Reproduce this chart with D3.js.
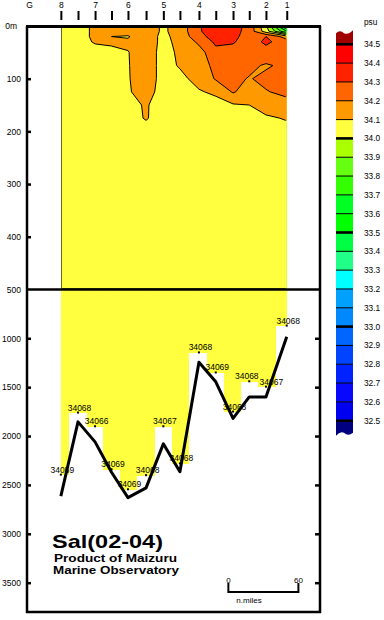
<!DOCTYPE html>
<html><head><meta charset="utf-8">
<script src="https://cdn.jsdelivr.net/npm/d3@7"></script>
<style>
body{margin:0;background:#fff}
svg{display:block}
text{font-family:"Liberation Sans",Arial,Helvetica,sans-serif;fill:#000}
</style>
</head><body>
<svg id="chart" width="384" height="620"></svg>
<script>
// ---------------- DATA ----------------
const stationNames = ["8","7.5","7","6.5","6","5.5","5","4.5","4","3.5","3","2.5","2","1"];
const stationDist  = [29, 43.7, 58.3, 72.4, 86.5, 102, 116.8, 131, 147.3, 161.7, 176.5, 190.4, 204.7, 222.5]; // n.miles
const originName = "G";
const originDist = 2.3;
const bottomDepth = [2615, 1855, 2060, 2370, 2630, 2530, 2080, 2365, 1245, 1445, 1820, 1600, 1600, 985];
const sampleDepth = [2400, 1765, 1905, 2345, 2550, 2405, 1905, 2285, 1150, 1355, 1755, 1445, 1500, 875];
const bottomSal   = ["34059","34068","34066","34069","34069","34068","34067","34068","34068","34069","34068","34068","34067","34068"];
const gridDepths = [0, 10, 20, 30, 50, 75, 100, 125, 150, 175, 200, 250, 500];
// salinity (psu): one row per grid depth, one column per station (left -> right)
const salinity = [
  [34.07,34.08,34.11,34.12,34.13,34.15,34.085,34.14,34.29,34.36,34.34,34.27,34.02,33.45],
  [34.07,34.08,34.11,34.12,34.13,34.15,34.085,34.14,34.29,34.35,34.34,34.26,34.05,33.70],
  [34.07,34.08,34.11,34.10,34.095,34.14,34.08,34.13,34.27,34.34,34.33,34.25,34.30,34.15],
  [34.07,34.08,34.105,34.11,34.11,34.14,34.08,34.12,34.22,34.32,34.31,34.25,34.32,34.25],
  [34.07,34.075,34.08,34.085,34.098,34.13,34.08,34.11,34.16,34.27,34.26,34.24,34.26,34.24],
  [34.07,34.07,34.075,34.08,34.097,34.13,34.08,34.105,34.13,34.24,34.24,34.22,34.19,34.22],
  [34.07,34.07,34.07,34.075,34.096,34.13,34.08,34.085,34.12,34.21,34.22,34.195,34.22,34.23],
  [34.07,34.07,34.07,34.07,34.094,34.125,34.075,34.08,34.095,34.11,34.21,34.15,34.195,34.22],
  [34.07,34.07,34.07,34.07,34.085,34.105,34.075,34.075,34.08,34.08,34.09,34.10,34.13,34.17],
  [34.07,34.07,34.07,34.07,34.075,34.105,34.07,34.07,34.075,34.075,34.08,34.085,34.09,34.105],
  [34.07,34.07,34.07,34.07,34.07,34.075,34.07,34.07,34.07,34.07,34.07,34.075,34.075,34.08],
  [34.07,34.07,34.07,34.07,34.07,34.07,34.07,34.07,34.07,34.07,34.07,34.07,34.07,34.07],
  [34.068,34.068,34.068,34.068,34.068,34.068,34.068,34.068,34.068,34.068,34.068,34.068,34.068,34.068]
];
const levels = [32.5,32.6,32.7,32.8,32.9,33.0,33.1,33.2,33.3,33.4,33.5,33.6,33.7,33.8,33.9,34.0,34.1,34.2,34.3,34.4,34.5];
// colour below 32.5, each 0.1 band, above 34.5
const bandColors = ["#000080","#0000f0","#0808ff","#0022ff","#0044ff","#0066ff","#0088ff","#00a0ff","#00ffff","#22ff88",
  "#00ff44","#00ff00","#00ff22","#33ff00","#66ff11","#aaff00","#ffff40","#ff9900","#ff6600","#ff2200","#ff0000","#a00000"];
const depthTicks = [0,100,200,300,400,500,1000,1500,2000,2500,3000,3500];
const depthTickLabels = ["0m","100","200","300","400","500","1000","1500","2000","2500","3000","3500"];
const scaleBarStart = 172.5, scaleBarLen = 60;
const titleText = "Sal(02-04)";
const creditLines = ["Product of Maizuru","Marine Observatory"];

(function () {
// ---------------- SCALES ----------------
const svg = d3.select("#chart");
const x = d3.scaleLinear().domain([0, 251]).range([27, 320]);
const y = d3.scaleLinear().domain([0, 500, 3800]).range([26, 289.4, 612]);
const cb = d3.scaleLinear().domain([32.5, 34.5]).range([420.7, 44.3]);
const n = stationDist.length, m = gridDepths.length;
const sx = stationDist.map(d => x(d));

const defs = svg.append("defs");
defs.append("clipPath").attr("id","fillClip").append("rect")
  .attr("x", sx[0]).attr("y", 26).attr("width", sx[n-1]-sx[0]).attr("height", y(500)-26);
defs.append("clipPath").attr("id","lineClip").append("rect")
  .attr("x", sx[0]+1).attr("y", 27.5).attr("width", sx[n-1]-sx[0]-2).attr("height", y(500)-28.5);

// ---------------- DATA REGION (columns to deepest sample) ----------------
const colG = svg.append("g");
stationDist.forEach((d, i) => {
  const left = i === 0 ? sx[0] : (sx[i-1] + sx[i]) / 2;
  const right = i === n-1 ? sx[n-1] : (sx[i] + sx[i+1]) / 2;
  colG.append("rect").attr("x", left).attr("y", y(0)).attr("width", right-left)
    .attr("height", y(sampleDepth[i]) - y(0)).attr("fill", bandColors[16]).attr("shape-rendering","crispEdges");
});

// ---------------- CONTOURS ----------------
const values = salinity.flat();
const contours = d3.contours().size([n, m]).thresholds(levels)(values);
const ix = d3.scaleLinear().domain(d3.range(n)).range(stationDist);
const iy = d3.scaleLinear().domain(d3.range(m)).range(gridDepths);
const cl = (v, hi) => Math.max(0, Math.min(hi, v - 0.5));
const proj = d3.geoTransform({point(px, py) {
  this.stream.point(x(ix(cl(px, n-1))), y(iy(cl(py, m-1))));
}});
const gpath = d3.geoPath(proj);
svg.append("g").attr("clip-path","url(#fillClip)")
  .selectAll("path").data(contours).join("path")
  .attr("d", gpath)
  .attr("fill", d => bandColors[levels.indexOf(d.value) + 1])
  .attr("shape-rendering","crispEdges");
svg.append("g").attr("clip-path","url(#lineClip)")
  .selectAll("path").data(contours.filter(c => c.coordinates.length)).join("path")
  .attr("d", gpath).attr("fill","none").attr("stroke","#000").attr("stroke-width",1);

// ---------------- BOTTOM LINE + LABELS ----------------
svg.append("path")
  .attr("d", d3.line().x((d,i) => sx[i]).y(d => y(d))(bottomDepth))
  .attr("fill","none").attr("stroke","#000").attr("stroke-width",3).attr("stroke-linejoin","round");
const labG = svg.append("g");
const labs = [];
sampleDepth.forEach((d, i) => {
  labG.append("rect").attr("x", sx[i]-1).attr("y", y(d)-1.5).attr("width",2).attr("height",2).attr("fill","#000");
  const t = labG.append("text").attr("x", sx[i]+1.5).attr("y", y(d)-2.5).attr("text-anchor","middle")
    .attr("font-size", 8.5).text(bottomSal[i]);
  labs.push({t, cx: sx[i]+1.5, by: y(d)-2.5, w: t.node().getComputedTextLength()});
});
// nudge neighbouring labels apart where they would collide
for (let i = 1; i < labs.length; i++) {
  const a = labs[i-1], b = labs[i];
  const overlapX = (a.cx + a.w/2) - (b.cx - b.w/2) + 1;
  if (Math.abs(a.by - b.by) < 11 && overlapX > 0) {
    a.cx -= overlapX/2; b.cx += overlapX/2;
    a.t.attr("x", a.cx); b.t.attr("x", b.cx);
  }
}

// ---------------- FRAME & AXES ----------------
const frame = svg.append("g").attr("stroke","#000").attr("fill","none");
frame.append("line").attr("x1",26).attr("x2",321).attr("y1",26.5).attr("y2",26.5).attr("stroke-width",3);
frame.append("line").attr("x1",27).attr("x2",27).attr("y1",26).attr("y2",613).attr("stroke-width",2.5);
frame.append("line").attr("x1",320).attr("x2",320).attr("y1",26).attr("y2",613).attr("stroke-width",2.5);
frame.append("line").attr("x1",26).attr("x2",321).attr("y1",612).attr("y2",612).attr("stroke-width",2.5);
frame.append("line").attr("x1",27).attr("x2",320).attr("y1",y(500)).attr("y2",y(500)).attr("stroke-width",2.5);

// left depth axis (ticks pointing inward)
const leftAxis = d3.axisRight(y).tickValues(depthTicks).tickSize(4)
  .tickFormat((d, i) => depthTickLabels[i]);
const la = svg.append("g").attr("transform","translate(27,0)").call(leftAxis);
la.attr("font-family", null);
la.select(".domain").remove();
la.selectAll(".tick line").attr("stroke-width",2.5).attr("display", d => (d === 0 || d === 500) ? "none" : null);
la.selectAll(".tick text").attr("x", d => d === 0 ? -10 : -6).attr("text-anchor","end")
  .attr("font-size", 8.5).attr("dy","0.32em");

// right ticks in lower panel
const rightAxis = d3.axisLeft(y).tickValues(depthTicks.filter(d => d > 500)).tickSize(5).tickFormat("");
const ra = svg.append("g").attr("transform","translate(320,0)").call(rightAxis);
ra.select(".domain").remove();
ra.selectAll(".tick line").attr("stroke-width",2.5);

// top station axis
const topAxis = d3.axisTop(x).tickValues(stationDist).tickSize(9)
  .tickFormat((d, i) => stationNames[i].indexOf(".") < 0 ? stationNames[i] : "");
const ta = svg.append("g").attr("transform","translate(0,20)").call(topAxis);
ta.attr("font-family", null);
ta.select(".domain").remove();
ta.selectAll(".tick line").attr("stroke-width",2);
ta.selectAll(".tick text").attr("y",-12).attr("dy",0).attr("font-size",8.5);
svg.append("text").attr("x", x(originDist)).attr("y", 8).attr("text-anchor","middle")
  .attr("font-size",8.5).text(originName);

// ---------------- COLOUR BAR ----------------
const cbx0 = 336, cbx1 = 353;
const cbg = svg.append("g");
for (let k = 0; k < levels.length - 1; k++) {
  cbg.append("rect").attr("x", cbx0).attr("y", cb(levels[k+1])).attr("width", cbx1-cbx0)
    .attr("height", cb(levels[k]) - cb(levels[k+1])).attr("fill", bandColors[k+1]);
}
const cTop = cb(34.5), cBot = cb(32.5);
cbg.append("path").attr("fill", bandColors[21])
  .attr("d", `M${cbx0},${cTop} L${cbx0},${cTop-11} Q${cbx0+4},${cTop-15} ${cbx0+8},${cTop-11} Q${cbx0+12},${cTop-9} ${cbx1},${cTop-14} L${cbx1},${cTop} Z`);
cbg.append("path").attr("fill", bandColors[0])
  .attr("d", `M${cbx0},${cBot} L${cbx0},${cBot+15} Q${cbx0+4},${cBot+10} ${cbx0+8},${cBot+12} Q${cbx0+12},${cBot+16} ${cbx1},${cBot+12} L${cbx1},${cBot} Z`);
levels.forEach(l => {
  const major = Math.round(l * 10) % 5 === 0;
  cbg.append("line").attr("x1", cbx0).attr("x2", cbx1).attr("y1", cb(l)).attr("y2", cb(l))
    .attr("stroke","#000").attr("stroke-width", major ? 2.6 : 1);
  cbg.append("text").attr("x", 364).attr("y", cb(l) + 3).attr("font-size", 8.3).text(d3.format(".1f")(l));
});
svg.append("text").attr("x", 364).attr("y", 25).attr("font-size", 8.3).text("psu");

// ---------------- TITLE ----------------
svg.append("text").attr("x", 52).attr("y", 547.5).attr("font-size", 19).attr("font-weight","bold")
  .attr("textLength", 111).attr("lengthAdjust","spacingAndGlyphs").text(titleText);
svg.append("text").attr("x", 54).attr("y", 561.6).attr("font-size", 11).attr("font-weight","bold")
  .attr("textLength", 123).attr("lengthAdjust","spacingAndGlyphs").text(creditLines[0]);
svg.append("text").attr("x", 53).attr("y", 574.3).attr("font-size", 11).attr("font-weight","bold")
  .attr("textLength", 126).attr("lengthAdjust","spacingAndGlyphs").text(creditLines[1]);

// ---------------- SCALE BAR ----------------
const sb0 = x(scaleBarStart), sb1 = x(scaleBarStart + scaleBarLen);
svg.append("path").attr("fill","none").attr("stroke","#000").attr("stroke-width",2)
  .attr("d", `M${sb0},583 L${sb0},592 L${sb1},592 L${sb1},583`);
svg.append("text").attr("x", sb0).attr("y", 583).attr("text-anchor","middle").attr("font-size",8).text("0");
svg.append("text").attr("x", sb1).attr("y", 583).attr("text-anchor","middle").attr("font-size",8).text(String(scaleBarLen));
svg.append("text").attr("x", 249).attr("y", 603).attr("text-anchor","middle").attr("font-size",8).text("n.miles");
})();
</script>
</body></html>
